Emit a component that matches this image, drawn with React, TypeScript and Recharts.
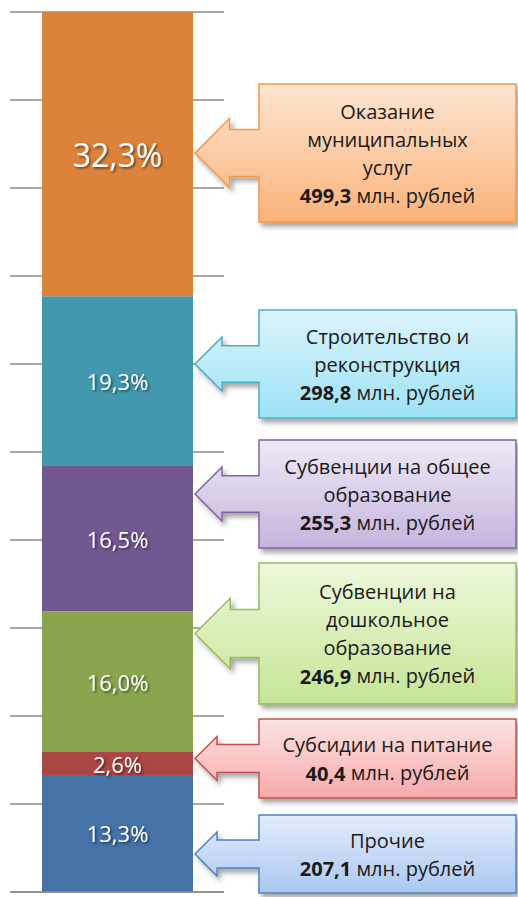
import { Bar, BarChart, CartesianGrid, LabelList, XAxis, YAxis } from 'recharts'

// series from bottom of the column to the top
const seriesKeys = ['other', 'food', 'preschool', 'school', 'building', 'services']
const shares = [13.3, 2.6, 16.0, 16.5, 19.3, 32.3]
const amounts = [207.1, 40.4, 246.9, 255.3, 298.8, 499.3]
const calloutLines = [
  ['Прочие'],
  ['Субсидии на питание'],
  ['Субвенции на', 'дошкольное', 'образование'],
  ['Субвенции на общее', 'образование'],
  ['Строительство и', 'реконструкция'],
  ['Оказание', 'муниципальных', 'услуг'],
]
const category = '2013'
const yTicks = [0, 10, 20, 30, 40, 50, 60, 70, 80, 90, 100]

const barColors = ['#4572a7', '#aa4643', '#89a54e', '#725891', '#4298af', '#db823b']
const borderColors = ['#4f81bd', '#c0504d', '#9bbb59', '#8064a2', '#4bacc6', '#f79646']
const fillTop = ['#e2ecfb', '#fde3e3', '#eef8dc', '#efe9f6', '#dcf4fb', '#fde5d1']
const fillBottom = ['#abc8f2', '#f6aaaa', '#c5e596', '#c6b4de', '#9de2f6', '#fab27a']

// callout boxes layout (top, height) in page pixels, same order as the series
const boxTops = [815, 719, 563, 440, 310, 84]
const boxHeights = [78, 79, 141, 108, 108, 138]

const W = 518
const H = 897
const FONT = '"Open Sans", sans-serif'

const chartData = [
  seriesKeys.reduce<Record<string, string | number>>(
    (row, key, i) => {
      row[key] = shares[i]
      return row
    },
    { name: category },
  ),
]

const fmt = (v: number) => v.toFixed(1).replace('.', ',')

function pctLabel(index: number) {
  const big = index === seriesKeys.length - 1
  return (props: any) => {
    const { x, y, width, height } = props
    return (
      <text
        x={Number(x) + Number(width) / 2}
        y={Number(y) + Number(height) / 2}
        textAnchor="middle"
        dominantBaseline="central"
        fill="#fff"
        fontFamily={FONT}
        fontSize={big ? 32 : 22}
        filter="url(#txtShadow)"
      >
        {fmt(shares[index])}%
      </text>
    )
  }
}

function Callout({ i }: { i: number }) {
  const top = boxTops[i]
  const h = boxHeights[i]
  const left = 259
  const right = 516
  const cy = top + h / 2
  const head = Math.max(22, h * 0.25)
  const shaft = Math.max(14, h * 0.17)
  const tip = 195
  const back = tip + head
  const d = [
    `M${left},${top}`,
    `L${right},${top}`,
    `L${right},${top + h}`,
    `L${left},${top + h}`,
    `L${left},${cy + shaft}`,
    `L${back},${cy + shaft}`,
    `L${back},${cy + head}`,
    `L${tip},${cy}`,
    `L${back},${cy - head}`,
    `L${back},${cy - shaft}`,
    `L${left},${cy - shaft}`,
    'Z',
  ].join(' ')
  const lines = calloutLines[i]
  const lh = 28
  const total = lines.length + 1
  const firstY = cy - ((total - 1) * lh) / 2
  const cx = (left + right) / 2
  return (
    <g>
      <path d={d} fill={`url(#grad${i})`} stroke={borderColors[i]} strokeWidth={1.5} filter="url(#boxShadow)" />
      {lines.map((ln, k) => (
        <text key={k} x={cx} y={firstY + k * lh} textAnchor="middle" dominantBaseline="central" fontFamily={FONT} fontSize={20} fill="#1a1a1a">
          {ln}
        </text>
      ))}
      <text x={cx} y={firstY + lines.length * lh} textAnchor="middle" dominantBaseline="central" fontFamily={FONT} fontSize={20} fill="#1a1a1a">
        <tspan fontWeight="bold">{fmt(amounts[i])}</tspan> млн. рублей
      </text>
    </g>
  )
}

export default function App() {
  return (
    <div style={{ position: 'absolute', left: 0, top: 0, width: W, height: H, background: '#fff' }}>
      <BarChart width={W} height={H} data={chartData} margin={{ top: 12, right: 294, bottom: 0, left: 10 }}>
        <CartesianGrid horizontal vertical={false} stroke="#8c8c8c" strokeWidth={1.3} />
        <XAxis dataKey="name" tick={false} tickLine={false} height={5} axisLine={{ stroke: '#8c8c8c', strokeWidth: 1.3 }} />
        <YAxis hide domain={[0, 100]} ticks={yTicks} />
        {seriesKeys.map((key, i) => (
          <Bar key={key} dataKey={key} stackId="a" fill={barColors[i]} barSize={151} isAnimationActive={false}>
            <LabelList dataKey={key} content={pctLabel(i)} />
          </Bar>
        ))}
      </BarChart>
      <svg width={W} height={H} style={{ position: 'absolute', left: 0, top: 0, pointerEvents: 'none' }}>
        <defs>
          <filter id="txtShadow" x="-20%" y="-40%" width="140%" height="180%">
            <feDropShadow dx={1.5} dy={1.5} stdDeviation={0.8} floodColor="#000" floodOpacity={0.55} />
          </filter>
          <filter id="boxShadow" x="-10%" y="-10%" width="125%" height="130%">
            <feDropShadow dx={3} dy={4} stdDeviation={2.5} floodColor="#000" floodOpacity={0.35} />
          </filter>
          {seriesKeys.map((key, i) => (
            <linearGradient key={key} id={`grad${i}`} x1="0" y1="0" x2="0" y2="1">
              <stop offset="0%" stopColor={fillTop[i]} />
              <stop offset="100%" stopColor={fillBottom[i]} />
            </linearGradient>
          ))}
        </defs>
        {seriesKeys.map((key, i) => (
          <Callout key={key} i={i} />
        ))}
      </svg>
    </div>
  )
}
